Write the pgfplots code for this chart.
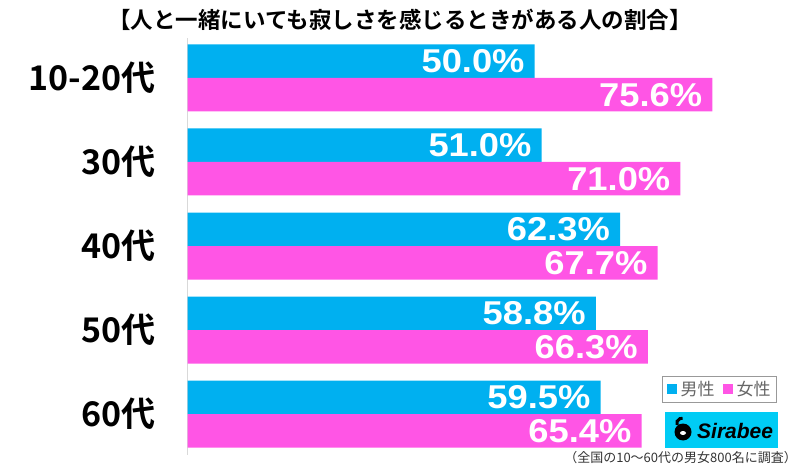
\documentclass[border=0pt]{standalone}
\usepackage{fontspec}
\usepackage{pgfplots}
\pgfplotsset{compat=1.18}
\newfontfamily\lab{Liberation Sans}[FakeStretch=1.1]
\newfontfamily\logo{Liberation Sans}
\newfontfamily\jp{Noto Sans CJK JP}
\newfontfamily\jpb{Noto Sans CJK JP Bold}
\definecolor{mcyan}{RGB}{0,176,240}
\definecolor{mmag}{RGB}{255,85,229}
\definecolor{logocyan}{RGB}{0,204,245}
\definecolor{axgray}{RGB}{217,217,217}
\begin{document}
\begin{tikzpicture}[x=1pt,y=1pt]
\path[use as bounding box] (0,0) rectangle (800,466);
\node[font=\jpb\fontsize{22.5}{22.5}\selectfont] at (400,446) {【人と一緒にいても寂しさを感じるときがある人の割合】};
\begin{axis}[
  at={(187.7pt,11pt)}, anchor=south west,
  scale only axis, width=612.3pt, height=417pt,
  xmin=0, xmax=88.23,
  ymin=-0.476, ymax=4.488, y dir=reverse,
  xbar, bar width=33.5pt,
  axis x line=none, axis y line*=left,
  y axis line style={draw=axgray, line width=1pt, -},
  ytick={0,1,2,3,4},
  yticklabels={10-20代,30代,40代,50代,60代},
  major tick length=0pt,
  yticklabel style={font=\jpb\fontsize{34}{34}\selectfont, anchor=east, inner sep=0pt, xshift=-32pt},
  clip=false,
  /pgf/number format/assume math mode=true,
  nodes near coords={\pgfmathprintnumber[fixed,fixed zerofill,precision=1,assume math mode=true]{\pgfplotspointmeta}\%},
  every node near coord/.append style={anchor=east, xshift=-10pt, text=white, font=\lab\bfseries\fontsize{33}{33}\selectfont, inner sep=0pt},
  legend style={at={(0.9624,0.1894)}, anchor=north east, draw=gray!80, line width=0.8pt,
    font=\jp\fontsize{17}{17}\selectfont, text=black!60, inner xsep=4pt, inner ysep=3pt,
    /tikz/every odd column/.append style={column sep=2pt},
    /tikz/every even column/.append style={column sep=6pt}},
  legend columns=2,
  legend image code/.code={\fill[#1,draw=none] (0pt,-5pt) rectangle (10pt,5pt);},
]
\addplot[fill=mcyan, draw=none, bar shift=16.75pt] coordinates {(50.0,0) (51.0,1) (62.3,2) (58.8,3) (59.5,4)};
\addplot[fill=mmag, draw=none, bar shift=-16.75pt] coordinates {(75.6,0) (71.0,1) (67.7,2) (66.3,3) (65.4,4)};
\legend{男性,女性}
\end{axis}
% Sirabee logo
\fill[logocyan] (665,18) rectangle (778,54);
\fill[black] (683,34) circle (8.5);
\fill[white] (683,33) ellipse (3 and 2);
\draw[black, line width=3pt] (677,41) arc (200:80:5);
\node[anchor=base west, font=\logo\bfseries\itshape\fontsize{21}{21}\selectfont, inner sep=0pt] at (697,28) {Sirabee};
\node[anchor=base east, font=\jp\fontsize{13}{13}\selectfont, inner sep=0pt, text=black!80] at (797,4) {（全国の10〜60代の男女800名に調査）};
\end{tikzpicture}
\end{document}
